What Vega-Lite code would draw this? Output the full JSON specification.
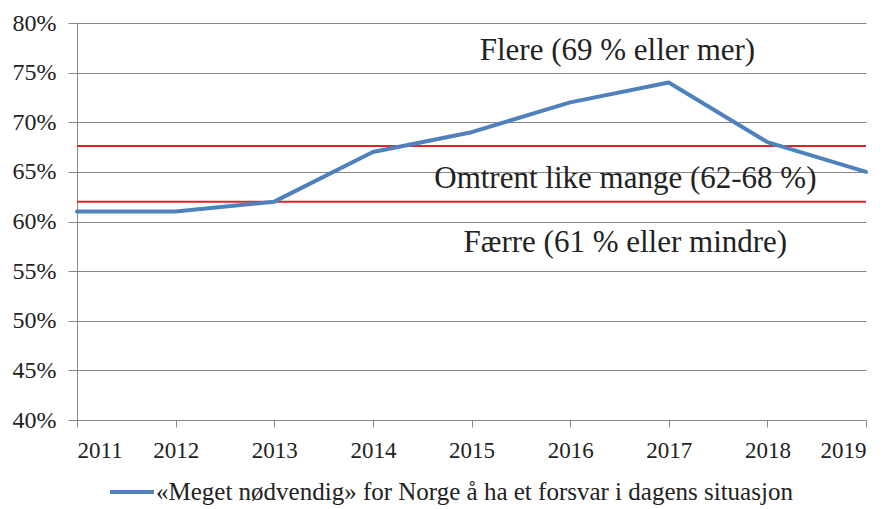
{
  "$schema": "https://vega.github.io/schema/vega-lite/v6.json",
  "width": 789,
  "height": 397,
  "autosize": "none",
  "padding": {"left": 77, "top": 23, "right": 25, "bottom": 89},
  "background": "white",
  "config": {
    "view": {"stroke": null},
    "font": "Liberation Serif"
  },
  "datasets": {
    "series": [
      {"year": 2011, "value": 61, "series": "«Meget nødvendig» for Norge å ha et forsvar i dagens situasjon"},
      {"year": 2012, "value": 61, "series": "«Meget nødvendig» for Norge å ha et forsvar i dagens situasjon"},
      {"year": 2013, "value": 62, "series": "«Meget nødvendig» for Norge å ha et forsvar i dagens situasjon"},
      {"year": 2014, "value": 67, "series": "«Meget nødvendig» for Norge å ha et forsvar i dagens situasjon"},
      {"year": 2015, "value": 69, "series": "«Meget nødvendig» for Norge å ha et forsvar i dagens situasjon"},
      {"year": 2016, "value": 72, "series": "«Meget nødvendig» for Norge å ha et forsvar i dagens situasjon"},
      {"year": 2017, "value": 74, "series": "«Meget nødvendig» for Norge å ha et forsvar i dagens situasjon"},
      {"year": 2018, "value": 68, "series": "«Meget nødvendig» for Norge å ha et forsvar i dagens situasjon"},
      {"year": 2019, "value": 65, "series": "«Meget nødvendig» for Norge å ha et forsvar i dagens situasjon"}
    ],
    "thresholds": [{"value": 67.6}, {"value": 62}],
    "labels": [
      {"year": 2016.48, "value": 77.2, "label": "Flere (69 % eller mer)"},
      {"year": 2016.56, "value": 64.3, "label": "Omtrent like mange (62-68 %)"},
      {"year": 2016.56, "value": 57.8, "label": "Færre (61 % eller mindre)"}
    ]
  },
  "layer": [
    {
      "data": {"name": "thresholds"},
      "mark": {"type": "rule", "color": "#E3202B", "strokeWidth": 2},
      "encoding": {
        "y": {"field": "value", "type": "quantitative", "scale": {"domain": [40, 80]}}
      }
    },
    {
      "data": {"name": "series"},
      "mark": {"type": "line", "strokeWidth": 4, "strokeCap": "round", "strokeJoin": "round"},
      "encoding": {
        "x": {"field": "year", "type": "quantitative", "scale": {"domain": [2011, 2019], "nice": false, "zero": false},
          "axis": {"title": null, "values": [2011, 2012, 2013, 2014, 2015, 2016, 2017, 2018, 2019], "format": "d", "grid": false, "tickSize": 7, "labelPadding": 12, "labelFont": "Liberation Serif", "labelFontSize": 23, "labelColor": "#222", "domainColor": "#868686", "tickColor": "#868686"}},
        "y": {"field": "value", "type": "quantitative", "scale": {"domain": [40, 80], "nice": false, "zero": false},
          "axis": {"title": null, "values": [40, 45, 50, 55, 60, 65, 70, 75, 80], "labelExpr": "datum.value + '%'", "grid": true, "gridColor": "#868686", "tickSize": 9, "labelPadding": 12, "labelFont": "Liberation Serif", "labelFontSize": 24, "labelColor": "#222", "domainColor": "#868686", "tickColor": "#868686"}},
        "color": {"field": "series", "type": "nominal", "scale": {"range": ["#4F81BD"]},
          "legend": {"title": null, "orient": "none", "legendX": 31, "legendY": 445, "padding": 0, "symbolType": "stroke", "symbolSize": 1936, "symbolStrokeWidth": 4, "labelFontSize": 25, "labelFont": "Liberation Serif", "labelColor": "#222", "labelLimit": 800, "labelOffset": 0}}
      }
    },
    {
      "data": {"name": "labels"},
      "mark": {"type": "text", "fontSize": 31, "font": "Liberation Serif", "color": "#222", "align": "center", "baseline": "middle"},
      "encoding": {
        "x": {"field": "year", "type": "quantitative"},
        "y": {"field": "value", "type": "quantitative"},
        "text": {"field": "label"}
      }
    }
  ]
}
